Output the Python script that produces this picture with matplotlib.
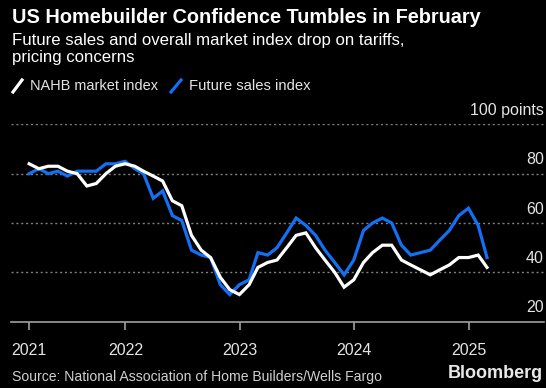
import matplotlib
matplotlib.use("Agg")
import matplotlib.pyplot as plt
import matplotlib.dates as mdates
from matplotlib.lines import Line2D
import pandas as pd

# ---- data ----
dates = pd.date_range("2021-02-28", periods=49, freq="ME")
nahb_market = [84, 82, 83, 83, 81, 80, 75, 76, 80, 83, 84,
               83, 81, 79, 77, 69, 67, 55, 49, 46, 38, 33, 31,
               35, 42, 44, 45, 50, 55, 56, 50, 45, 40, 34, 37,
               44, 48, 51, 51, 45, 43, 41, 39, 41, 43, 46, 46,
               47, 42]
future_sales = [80, 82, 80, 81, 79, 81, 81, 81, 84, 84, 85,
                82, 80, 70, 73, 63, 61, 49, 47, 46, 35, 31, 35,
                37, 48, 47, 50, 56, 62, 59, 55, 49, 44, 39, 45,
                57, 60, 62, 60, 51, 47, 48, 49, 53, 57, 63, 66,
                59, 46]
year_labels = ["2021", "2022", "2023", "2024", "2025"]
y_ticks = [20, 40, 60, 80, 100]

title = "US Homebuilder Confidence Tumbles in February"
subtitle1 = "Future sales and overall market index drop on tariffs,"
subtitle2 = "pricing concerns"
legend_labels = ["NAHB market index", "Future sales index"]
source = "Source: National Association of Home Builders/Wells Fargo"

W, H = 546, 388
BLUE = "#1370f5"
WHITE = "#ffffff"
TXT = "#e4e4e4"

fig = plt.figure(figsize=(W / 100, H / 100), dpi=100, facecolor="black")
renderer = fig.canvas.get_renderer()


def fx(px):
    return px / W


def fy(py):
    return 1 - py / H


def fit_text(x, y, s, target_w, ha="left", **kw):
    t = fig.text(fx(x), fy(y), s, ha=ha, va="center", **kw)
    w = t.get_window_extent(renderer).width
    t.set_fontsize(t.get_fontsize() * target_w / w)
    return t


FONT = "Liberation Sans"

# axes
ax_left, ax_right, ax_top, ax_bottom = 11, 544, 124.3, 321.7
ax = fig.add_axes([fx(ax_left), fy(ax_bottom), fx(ax_right - ax_left),
                   (ax_bottom - ax_top) / H])
ax.set_facecolor("black")
ax.set_ylim(20, 100)
ax.set_xlim(pd.Timestamp("2021-01-01"), pd.Timestamp("2025-08-29"))

for v in y_ticks[1:]:
    ax.axhline(v, color="#808080", lw=1.0, ls=(0, (1.5, 2.0)), zorder=1)

ax.plot(dates, future_sales, color=BLUE, lw=2.3, zorder=3,
        solid_joinstyle="miter")
ax.plot(dates, nahb_market, color=WHITE, lw=2.3, zorder=4,
        solid_joinstyle="miter")

for s in ["top", "right", "left"]:
    ax.spines[s].set_visible(False)
ax.spines["bottom"].set_color("#a0a0a0")
ax.spines["bottom"].set_linewidth(1.2)
ax.set_yticks([])

tick_pos = [dates[0]] + [pd.Timestamp(f"{y}-01-01") for y in (2022, 2023, 2024, 2025)]
ax.set_xticks(tick_pos)
ax.set_xticklabels(year_labels)
ax.tick_params(axis="x", colors="#a0a0a0", length=6, width=1.2, pad=9,
               labelsize=11.5, labelcolor=TXT)
for lab in ax.get_xticklabels():
    lab.set_family(FONT)

# y labels above gridlines, right aligned
for v in y_ticks:
    ypx = ax_bottom - (v - 20) * (ax_bottom - ax_top) / 80 - 14
    label = f"{v} points" if v == 100 else f"{v}"
    fig.text(fx(544), fy(ypx), label, ha="right", va="center", color=TXT,
             fontsize=11.5, family=FONT)

# title & subtitle
fit_text(12, 17.5, title, 470, color=WHITE, fontsize=14, weight="bold", family=FONT)
fit_text(12, 40, subtitle1, 392, color=WHITE, fontsize=12, family=FONT)
t2 = fig.text(fx(12), fy(57.5), subtitle2, ha="left", va="center", color=WHITE,
              family=FONT)
t2.set_fontsize(fig.texts[-2].get_fontsize())

# legend
fig.add_artist(Line2D([fx(13), fx(22)], [fy(92), fy(80)], color=WHITE, lw=2.3,
                      transform=fig.transFigure))
fit_text(30.5, 86, legend_labels[0], 127.5, color=TXT, fontsize=11.5, family=FONT)
fig.add_artist(Line2D([fx(171), fx(181)], [fy(92), fy(80)], color=BLUE, lw=2.3,
                      transform=fig.transFigure))
fit_text(189, 86, legend_labels[1], 122.5, color=TXT, fontsize=11.5, family=FONT)

# footer
fit_text(12, 376.5, source, 367, color="#d0d0d0", fontsize=11, family=FONT)
fit_text(543, 373, "Bloomberg", 95, ha="right", color="#e8e8e8", fontsize=11,
         weight="bold", family=FONT)

fig.savefig("out.png", dpi=100, facecolor="black")
